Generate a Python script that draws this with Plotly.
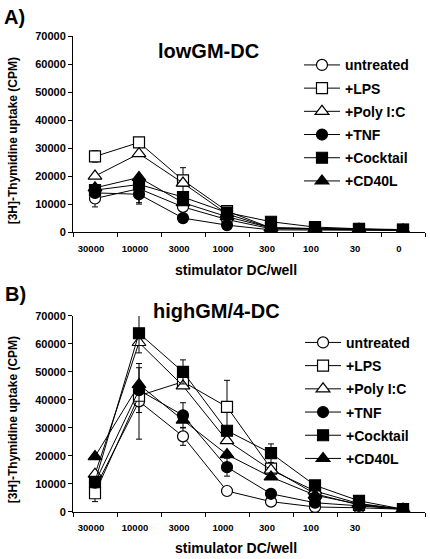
import plotly.graph_objects as go

categories = ["30000", "10000", "3000", "1000", "300", "100", "30", "0"]
labels_a = ["30000", "10000", "3000", "1000", "300", "100", "30", "0"]
labels_b = ["30000", "10000", "3000", "1000", "300", "100", "30", ""]

series_names = ["untreated", "+LPS", "+Poly I:C", "+TNF", "+Cocktail", "+CD40L"]

# Panel A: lowGM-DC
a_untreated = [12000, 15500, 9000, 4500, 1200, 1000, 800, 700]
a_lps = [27000, 32000, 18500, 7500, 1500, 1200, 1000, 800]
a_polyic = [20000, 28000, 17500, 6500, 1500, 1200, 1000, 800]
a_tnf = [14000, 13500, 5000, 2500, 800, 800, 700, 600]
a_cocktail = [15000, 17000, 12500, 7000, 3700, 1800, 1200, 900]
a_cd40l = [15800, 19500, 10500, 5500, 1500, 1200, 900, 700]

a_err_untreated = [3000, 5000, 0, 0, 0, 0, 0, 0]
a_err_lps = [2000, 0, 4500, 0, 0, 0, 0, 0]
a_err_polyic = [0, 0, 0, 0, 0, 0, 0, 0]
a_err_tnf = [0, 3500, 0, 0, 0, 0, 0, 0]
a_err_cocktail = [0, 0, 0, 0, 0, 0, 0, 0]
a_err_cd40l = [0, 0, 0, 0, 0, 0, 0, 0]

# Panel B: highGM/4-DC
b_untreated = [8500, 39500, 27000, 7500, 3700, 1800, 1500, 1000]
b_lps = [6700, 41500, 46500, 37500, 15500, 6500, 2500, 1000]
b_polyic = [13500, 60500, 45000, 25500, 15000, 7500, 3000, 1000]
b_tnf = [10500, 43500, 34500, 16000, 6500, 3300, 2200, 1000]
b_cocktail = [10800, 63800, 50000, 29000, 21000, 9500, 4000, 1000]
b_cd40l = [19800, 45500, 32800, 20500, 12500, 6000, 2800, 1000]

b_err_untreated = [0, 13500, 3200, 0, 0, 0, 0, 0]
b_err_lps = [3000, 0, 0, 9500, 0, 0, 0, 0]
b_err_polyic = [0, 0, 0, 0, 0, 0, 0, 0]
b_err_tnf = [0, 8000, 4500, 3200, 0, 0, 0, 0]
b_err_cocktail = [0, 7000, 4300, 0, 3300, 0, 0, 0]
b_err_cd40l = [0, 0, 0, 0, 0, 0, 0, 0]

symbols = ["circle-open", "square-open", "triangle-up-open", "circle", "square", "triangle-up"]
sizes = [11, 11, 12, 11, 11, 12]

x_title = "stimulator DC/well"
y_title = "[3H]-Thymidine uptake (CPM)"

FONT = "Liberation Sans, Arial, sans-serif"

fig = go.Figure()

panel_a = [a_untreated, a_lps, a_polyic, a_tnf, a_cocktail, a_cd40l]
panel_a_err = [a_err_untreated, a_err_lps, a_err_polyic, a_err_tnf, a_err_cocktail, a_err_cd40l]
panel_b = [b_untreated, b_lps, b_polyic, b_tnf, b_cocktail, b_cd40l]
panel_b_err = [b_err_untreated, b_err_lps, b_err_polyic, b_err_tnf, b_err_cocktail, b_err_cd40l]


def marker_for(i):
    open_sym = symbols[i].endswith("-open")
    return dict(
        symbol=symbols[i].replace("-open", ""),
        size=sizes[i],
        color="white" if open_sym else "black",
        line=dict(color="black", width=1.2),
    )


for i, name in enumerate(series_names):
    fig.add_trace(go.Scatter(
        x=categories, y=panel_a[i], name=name, mode="lines+markers",
        xaxis="x", yaxis="y",
        line=dict(color="black", width=1),
        marker=marker_for(i),
        error_y=dict(type="data", array=panel_a_err[i], color="black", thickness=1, width=3),
        legend="legend", legendgroup=f"a{i}",
    ))

for i, name in enumerate(series_names):
    fig.add_trace(go.Scatter(
        x=categories, y=panel_b[i], name=name, mode="lines+markers",
        xaxis="x2", yaxis="y2",
        line=dict(color="black", width=1),
        marker=marker_for(i),
        error_y=dict(type="data", array=panel_b_err[i], color="black", thickness=1, width=3),
        legend="legend2", legendgroup=f"b{i}",
    ))

ytick_font = dict(family=FONT, size=11, color="black", weight="bold")
xtick_font = dict(family=FONT, size=9.5, color="black", weight="bold")
xtitle_font = dict(family=FONT, size=14, color="black", weight="bold")
ytitle_font = dict(family=FONT, size=12, color="black", weight="bold")
legend_font = dict(family=FONT, size=14, color="black", weight="bold")
head_font = dict(family=FONT, size=20, color="black", weight="bold")

common_x = dict(
    type="category", categoryorder="array", categoryarray=categories,
    range=[-0.5, 7.5], showline=True, linecolor="black", linewidth=1,
    ticks="outside", ticklen=4, tickcolor="black", tickson="boundaries",
    tickmode="array", tickvals=categories,
    showgrid=False, zeroline=False, tickfont=xtick_font,
    ticklabelshift=-4, ticklabelstandoff=7,
)
common_y = dict(
    range=[0, 70000], dtick=10000, showline=True, linecolor="black", linewidth=1,
    ticks="outside", ticklen=4, tickcolor="black", showgrid=False, zeroline=False,
    tickfont=ytick_font, tickformat="d",
)


def ann(text, x, y, font, **kw):
    return dict(text=text, x=x, y=y, xref="paper", yref="paper", showarrow=False,
                font=font, **kw)


fig.update_layout(
    width=430, height=559,
    margin=dict(l=73, r=5, t=36, b=47),
    paper_bgcolor="white", plot_bgcolor="white",
    font=dict(family=FONT, color="black"),
    xaxis=dict(common_x, domain=[0, 1], anchor="y", ticktext=labels_a),
    yaxis=dict(common_y, domain=[0.588, 1.0], anchor="x"),
    xaxis2=dict(common_x, domain=[0, 1], anchor="y2", ticktext=labels_b),
    yaxis2=dict(common_y, domain=[0.0, 0.412], anchor="x2"),
    legend=dict(
        x=0.642, y=0.972, xanchor="left", yanchor="top",
        font=legend_font, bgcolor="rgba(0,0,0,0)", tracegroupgap=2, itemwidth=36,
    ),
    legend2=dict(
        x=0.645, y=0.389, xanchor="left", yanchor="top",
        font=legend_font, bgcolor="rgba(0,0,0,0)", tracegroupgap=2, itemwidth=36,
    ),
    annotations=[
        ann("A)", -0.203, 1.068, head_font, xanchor="left", yanchor="top"),
        ann("B)", -0.2, 0.486, head_font, xanchor="left", yanchor="top"),
        ann("lowGM-DC", 0.386, 0.968, head_font, xanchor="center", yanchor="middle"),
        ann("highGM/4-DC", 0.409, 0.422, head_font, xanchor="center", yanchor="middle"),
        ann(x_title, 0.463, 0.508, xtitle_font, xanchor="center", yanchor="middle"),
        ann(x_title, 0.463, -0.0756, xtitle_font, xanchor="center", yanchor="middle"),
        ann(y_title, -0.170, 0.779, ytitle_font, xanchor="center", yanchor="middle", textangle=-90),
        ann(y_title, -0.170, 0.193, ytitle_font, xanchor="center", yanchor="middle", textangle=-90),
    ],
)

fig.write_html("out.html", config={"displayModeBar": False},
               post_script="document.body.style.margin='0';")
